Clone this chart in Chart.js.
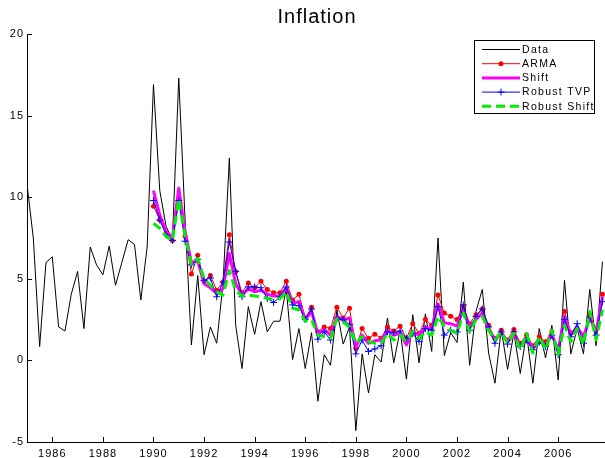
<!DOCTYPE html>
<html>
<head>
<meta charset="utf-8">
<title>Inflation</title>
<script src="https://cdn.jsdelivr.net/npm/chart.js@4.4.1/dist/chart.umd.min.js"></script>
<style>
  html, body { margin: 0; padding: 0; background: #fff; overflow: hidden; }
</style>
</head>
<body>
<canvas id="inflationChart" width="634" height="458"></canvas>
<script>
"use strict";

// quarterly observations; data starts 1985Q1, the model fits start 1990Q1
var dataStart = 1985;
var modelStart = 1990;

var inflation = [
    10.8, 7.5, 0.85, 6.0,
    6.35, 2.05, 1.8, 4.05,
    5.45, 1.95, 6.95, 5.85,
    5.25, 7.0, 4.6, 6.0,
    7.4, 7.1, 3.7, 6.95,
    16.9, 10.4, 8.2, 7.4,
    17.3, 8.6, 0.95, 5.2,
    0.35, 2.05, 1.05, 4.7,
    12.4, 2.15, -0.5, 3.3,
    1.6, 3.6, 1.75, 2.4,
    2.4, 4.4, 0.05, 1.95,
    -0.5, 1.7, -2.5, 0.35,
    -0.3, 3.1, 1.0, 2.05,
    -4.3, 0.4, -2.0, 0.35,
    -0.1, 2.6, -0.15, 1.85,
    -1.15, 2.8, -0.15, 2.85,
    0.55, 7.5, 0.3, 1.7,
    1.1, 4.8, -0.3, 3.0,
    4.35, 0.45, -1.4, 1.9,
    -0.55, 1.7, -0.8, 1.65,
    -1.4, 1.95, 0.15, 2.15,
    -1.2, 4.9, 0.4, 1.95,
    0.4, 4.35, 0.9, 6.05
];

var arma = [
    9.45, 8.6, 7.8, 7.35,
    9.9, 7.6, 5.3, 6.45,
    4.85, 5.2, 4.3, 4.8,
    7.7, 5.45, 4.15, 4.75,
    4.45, 4.85, 4.35, 4.15,
    4.15, 4.85, 3.7, 4.05,
    2.6, 3.25, 1.75, 2.05,
    1.95, 3.25, 2.6, 3.2,
    0.75, 1.95, 1.35, 1.6,
    1.35, 2.05, 1.8, 2.1,
    1.35, 2.25, 1.65, 2.5,
    2.15, 4.0, 2.9, 2.7,
    2.5, 3.3, 2.25, 2.8,
    3.15, 2.15, 1.35, 1.85,
    1.25, 1.9, 1.05, 1.55,
    0.9, 1.45, 1.15, 1.75,
    0.75, 3.0, 1.7, 1.95,
    1.55, 2.8, 1.9, 4.05
];

var shift = [
    10.4, 8.9, 7.9, 7.5,
    10.55, 7.9, 6.0, 6.1,
    4.7, 4.45, 4.1, 4.4,
    6.55, 4.7, 4.0, 4.4,
    4.2, 4.3, 4.05, 3.95,
    3.95, 4.45, 3.5, 3.6,
    2.5, 3.0, 1.6, 1.9,
    1.55, 2.7, 2.45, 2.6,
    0.85, 1.55, 1.05, 1.2,
    1.25, 1.85, 1.55, 1.65,
    0.95, 1.75, 1.55, 2.05,
    1.9, 3.45, 2.3, 2.25,
    2.1, 3.1, 2.05, 2.5,
    2.9, 1.9, 1.25, 1.65,
    1.15, 1.55, 0.9, 1.35,
    0.75, 1.15, 0.95, 1.55,
    0.65, 2.7, 1.55, 2.05,
    1.45, 2.6, 1.75, 3.9
];

var robustTVP = [
    9.8, 8.6, 7.7, 7.35,
    9.8, 7.3, 5.85, 6.2,
    4.9, 5.05, 3.9, 4.8,
    7.25, 5.45, 3.9, 4.5,
    4.5, 4.45, 3.8, 3.55,
    3.9, 4.5, 3.4, 3.35,
    2.5, 3.15, 1.3, 1.75,
    1.25, 2.6, 2.5, 2.2,
    0.4, 1.25, 0.55, 0.7,
    0.9, 1.75, 1.7, 1.8,
    1.35, 1.65, 1.15, 1.95,
    1.85, 3.3, 1.55, 1.85,
    1.75, 3.4, 1.85, 2.7,
    3.15, 2.05, 1.05, 1.75,
    1.0, 1.75, 0.85, 1.25,
    0.65, 1.1, 0.85, 1.55,
    0.35, 2.5, 1.45, 2.25,
    1.05, 2.65, 1.55, 3.6
];

var robustShift = [
    8.4, 8.1, 7.6, 7.35,
    9.9, 7.6, 5.9, 6.25,
    5.0, 4.6, 4.2, 4.0,
    5.5, 4.3, 3.95, 4.0,
    3.95, 3.9, 3.8, 3.75,
    3.8, 4.2, 3.2, 3.1,
    2.4, 2.5, 1.55, 1.45,
    1.35, 2.55, 2.35, 2.05,
    1.05, 1.45, 1.15, 1.05,
    1.05, 1.65, 1.25, 1.55,
    1.15, 1.75, 1.35, 1.75,
    1.55, 2.7, 2.05, 1.85,
    1.65, 2.9, 1.75, 2.5,
    2.7, 1.85, 1.25, 1.75,
    1.05, 1.65, 0.65, 1.65,
    0.45, 1.45, 0.65, 1.85,
    0.35, 2.15, 1.15, 1.95,
    0.95, 3.0, 1.25, 3.1
];

var yearTicks = [1986, 1988, 1990, 1992, 1994, 1996, 1998, 2000, 2002, 2004, 2006];
var valueTicks = [-5, 0, 5, 10, 15, 20];

function toPoints(start, values) {
    return values.map(function (v, i) {
        return { x: start + i / 4, y: v };
    });
}

var tickFont = { family: "'Liberation Sans', Arial, sans-serif", size: 11 };

// matlab style: ticks point into the plot, wide letter spacing
var matlabAxes = {
    id: 'matlabAxes',
    beforeDraw: function (chart) {
        chart.ctx.letterSpacing = '1px';
    },
    afterDatasetsDraw: function (chart) {
        var ctx = chart.ctx;
        var area = chart.chartArea;
        var sx = chart.scales.x;
        var sy = chart.scales.y;
        ctx.save();
        ctx.strokeStyle = '#000';
        ctx.lineWidth = 1;
        ctx.beginPath();
        sx.ticks.forEach(function (t) {
            var px = Math.round(sx.getPixelForValue(t.value)) + 0.5;
            ctx.moveTo(px, area.bottom);
            ctx.lineTo(px, area.bottom - 5);
        });
        sy.ticks.forEach(function (t) {
            var py = Math.round(sy.getPixelForValue(t.value)) + 0.5;
            ctx.moveTo(area.left, py);
            ctx.lineTo(area.left + 5, py);
        });
        ctx.stroke();
        ctx.restore();
    }
};

var insetLegend = {
    id: 'insetLegend',
    afterDraw: function (chart) {
        var ctx = chart.ctx;
        var left = 474.5, top = 40.5, w = 120, h = 73;
        ctx.save();
        ctx.fillStyle = '#fff';
        ctx.fillRect(left, top, w, h);
        ctx.strokeStyle = '#000';
        ctx.lineWidth = 1;
        ctx.setLineDash([]);
        ctx.strokeRect(left, top, w, h);

        ctx.font = "10.5px 'Liberation Sans', Arial, sans-serif";
        ctx.letterSpacing = '1.3px';
        ctx.textBaseline = 'middle';
        ctx.textAlign = 'left';

        chart.data.datasets.forEach(function (ds, i) {
            var yy = 49.5 + i * 14.2;
            var x1 = 482, x2 = 520, xm = 501;
            ctx.strokeStyle = ds.borderColor;
            ctx.lineWidth = ds.borderWidth;
            ctx.setLineDash(ds.borderDash || []);
            ctx.beginPath();
            ctx.moveTo(x1, yy);
            ctx.lineTo(x2, yy);
            ctx.stroke();
            ctx.setLineDash([]);
            if (ds.pointRadius && ds.pointStyle === 'circle') {
                ctx.fillStyle = ds.pointBackgroundColor;
                ctx.beginPath();
                ctx.arc(xm, yy, ds.pointRadius, 0, Math.PI * 2);
                ctx.fill();
            } else if (ds.pointRadius && ds.pointStyle === 'cross') {
                ctx.strokeStyle = ds.pointBorderColor;
                ctx.lineWidth = 1;
                ctx.beginPath();
                ctx.moveTo(xm - ds.pointRadius, yy);
                ctx.lineTo(xm + ds.pointRadius, yy);
                ctx.moveTo(xm, yy - ds.pointRadius);
                ctx.lineTo(xm, yy + ds.pointRadius);
                ctx.stroke();
            }
            ctx.fillStyle = '#000';
            ctx.fillText(ds.label, 522, yy + 0.5);
        });
        ctx.restore();
    }
};

var ctx = document.getElementById('inflationChart').getContext('2d');

var inflationChart = new Chart(ctx, {
    type: 'line',
    data: {
        datasets: [{
            label: 'Data',
            data: toPoints(dataStart, inflation),
            borderColor: '#000000',
            borderWidth: 1,
            pointRadius: 0,
            order: 5
        }, {
            label: 'ARMA',
            data: toPoints(modelStart, arma),
            borderColor: '#ff0000',
            borderWidth: 1,
            pointStyle: 'circle',
            pointRadius: 2.5,
            pointBackgroundColor: '#ff0000',
            pointBorderColor: '#ff0000',
            pointBorderWidth: 0,
            order: 4
        }, {
            label: 'Shift',
            data: toPoints(modelStart, shift),
            borderColor: '#ff00ff',
            borderWidth: 3,
            borderJoinStyle: 'round',
            pointRadius: 0,
            order: 3
        }, {
            label: 'Robust TVP',
            data: toPoints(modelStart, robustTVP),
            borderColor: '#0000ff',
            borderWidth: 1,
            pointStyle: 'cross',
            pointRadius: 3.5,
            pointBorderColor: '#0000ff',
            pointBorderWidth: 1,
            order: 2
        }, {
            label: 'Robust Shift',
            data: toPoints(modelStart, robustShift),
            borderColor: '#00ee00',
            borderWidth: 3,
            borderJoinStyle: 'round',
            borderDash: [9, 5],
            pointRadius: 0,
            order: 1
        }]
    },
    options: {
        responsive: false,
        animation: false,
        events: [],
        elements: { line: { tension: 0 } },
        layout: { padding: 0 },
        plugins: {
            legend: { display: false },
            tooltip: { enabled: false },
            title: {
                display: true,
                text: 'Inflation',
                color: '#000',
                font: { family: "'Liberation Sans', Arial, sans-serif", size: 20, weight: 'normal', lineHeight: 1.2 },
                padding: { top: 5, bottom: 5 }
            }
        },
        scales: {
            x: {
                type: 'linear',
                min: 1985,
                max: 2008.8,
                afterBuildTicks: function (scale) {
                    scale.ticks = yearTicks.map(function (v) { return { value: v }; });
                },
                afterFit: function (scale) { scale.height = 16; },
                grid: { display: false, drawTicks: false },
                border: { display: true, color: '#000', width: 1 },
                ticks: {
                    color: '#000',
                    font: tickFont,
                    padding: 5,
                    maxRotation: 0,
                    autoSkip: false,
                    callback: function (v) { return String(v); }
                }
            },
            y: {
                min: -5,
                max: 20,
                afterBuildTicks: function (scale) {
                    scale.ticks = valueTicks.map(function (v) { return { value: v }; });
                },
                afterFit: function (scale) { scale.width = 27; },
                grid: { display: false, drawTicks: false },
                border: { display: true, color: '#000', width: 1 },
                ticks: {
                    color: '#000',
                    font: tickFont,
                    padding: 3,
                    callback: function (v) { return String(v); }
                }
            }
        }
    },
    plugins: [matlabAxes, insetLegend]
});
</script>
</body>
</html>
